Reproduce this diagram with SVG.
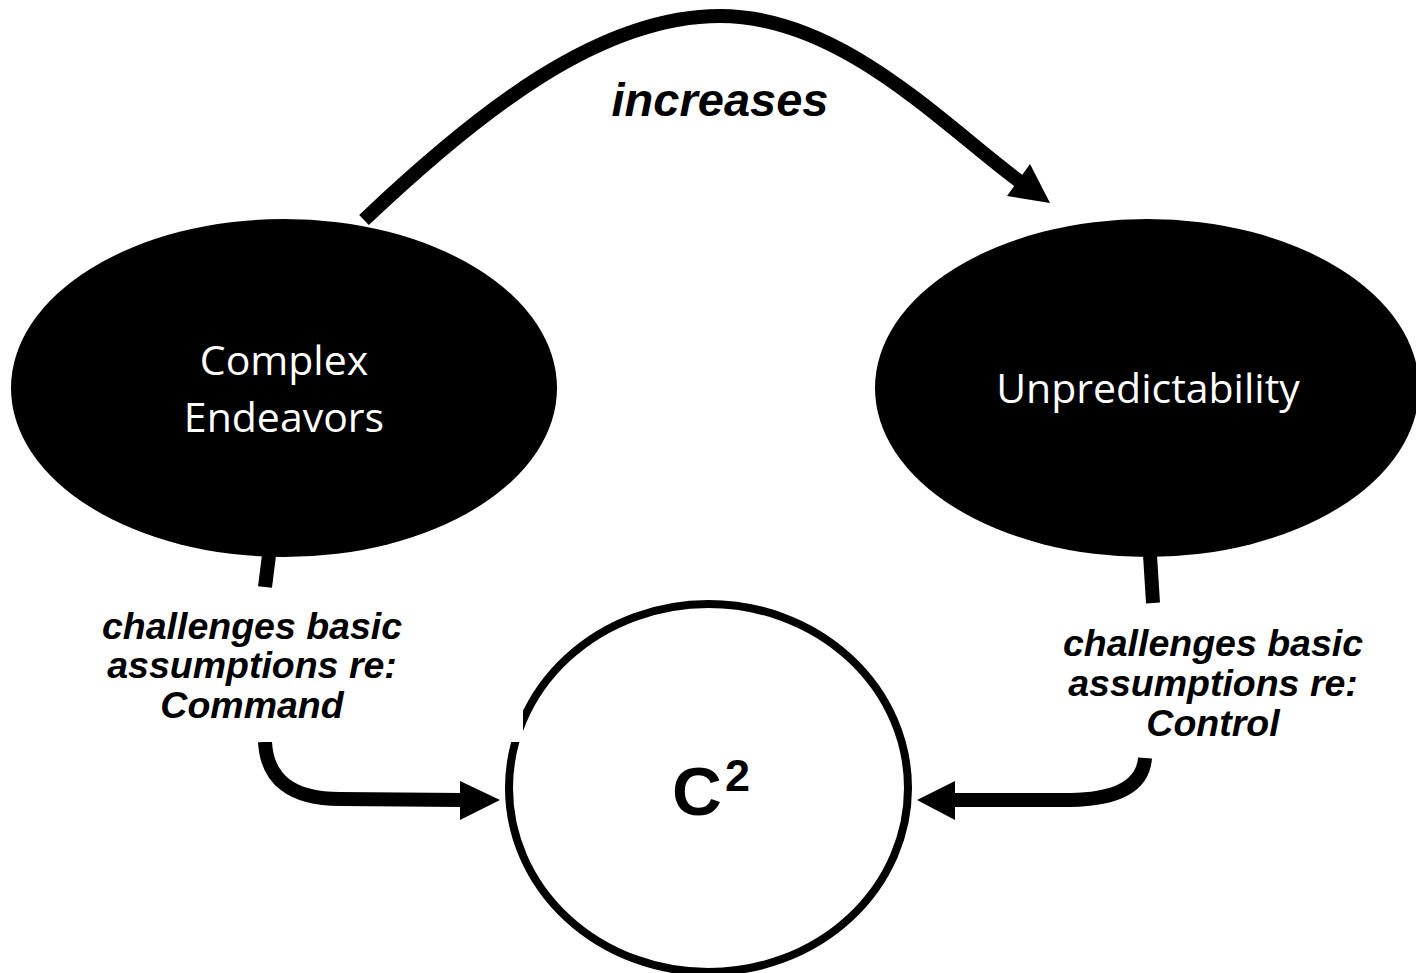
<svg xmlns="http://www.w3.org/2000/svg" width="1416" height="973" viewBox="0 0 1416 973">
<style>
.bg{fill:#ffffff}
.blob{fill:#000000}
.node-text{font-family:"Open Sans","Liberation Sans",sans-serif;font-size:41px;fill:#ffffff;text-anchor:middle}
.conn{fill:none;stroke:#000000;stroke-width:14;stroke-linecap:butt;stroke-linejoin:round}
.head{fill:#000000}
.label{font-family:"Liberation Sans",Arial,sans-serif;font-weight:bold;font-style:italic;font-size:37.5px;fill:#000000;text-anchor:middle}
.big{font-family:"Liberation Sans",Arial,sans-serif;font-size:47px;font-weight:bold;font-style:italic;fill:#000000;text-anchor:middle}
.c2{font-family:"Liberation Sans",Arial,sans-serif;font-weight:bold;fill:#000000}
.ring{fill:#ffffff;stroke:#000000;stroke-width:8}
.box{fill:#ffffff}
</style>
<rect class="bg" x="0" y="0" width="1416" height="973"/>

<g id="connectors">
  <path class="conn" d="M364,220 C480,110 600,16 720,16 C840,16 940,122 1019,181"/>
  <polygon class="head" points="1050,203 1007,196 1030,164"/>
  <path class="conn" d="M269,555 L265,587"/>
  <path class="conn" d="M265,742 Q268,799 340,799 L462,800"/>
  <polygon class="head" points="500,800 460,781 460,820"/>
  <path class="conn" d="M1150,555 L1153,603"/>
  <path class="conn" d="M1145,758 Q1142,799 1070,800 L953,800"/>
  <polygon class="head" points="917,800 955,781 955,820"/>
</g>

<g id="node-complex-endeavors">
  <ellipse class="blob" cx="284" cy="388" rx="273" ry="169"/>
  <text class="node-text" x="284" y="375">Complex</text>
  <text class="node-text" x="284" y="432">Endeavors</text>
</g>

<g id="node-unpredictability">
  <ellipse class="blob" cx="1147" cy="388" rx="272" ry="169"/>
  <text class="node-text" x="1148" y="403">Unpredictability</text>
</g>

<g id="node-c2">
  <ellipse class="ring" cx="708.5" cy="788" rx="199.5" ry="184"/>
  <text class="c2" x="672" y="815" font-size="69">C</text>
  <text class="c2" x="725" y="791" font-size="45">2</text>
</g>

<g id="label-increases">
  <text class="big" x="720" y="116">increases</text>
</g>

<g id="label-command">
  <rect class="box" x="100" y="590" width="423" height="152"/>
  <text class="label" x="252" y="639">challenges basic</text>
  <text class="label" x="252" y="678">assumptions re:</text>
  <text class="label" x="252" y="718">Command</text>
</g>

<g id="label-control">
  <text class="label" x="1213" y="656">challenges basic</text>
  <text class="label" x="1213" y="696">assumptions re:</text>
  <text class="label" x="1213" y="736">Control</text>
</g>
</svg>
